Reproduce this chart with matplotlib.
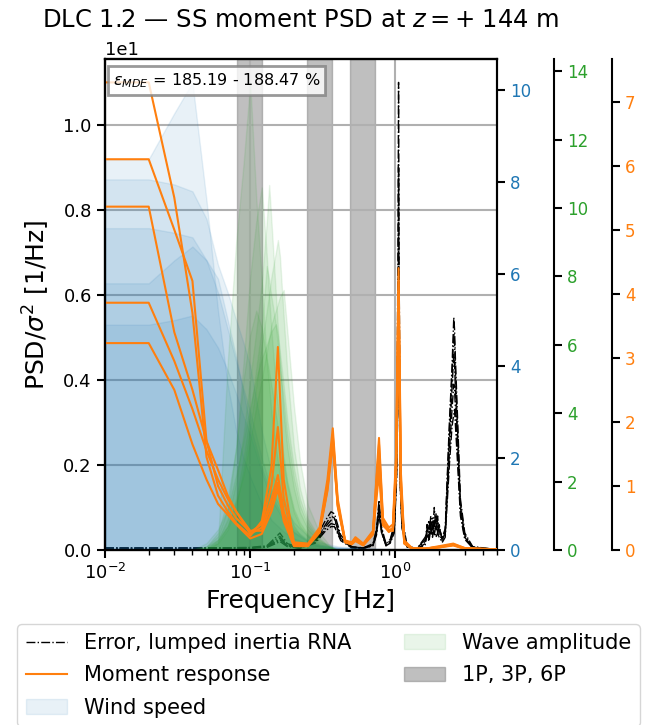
import matplotlib
matplotlib.use('Agg')
import matplotlib.pyplot as plt

# Frequencies [Hz] and PSD values
f_wind = [0.01, 0.02, 0.03, 0.04, 0.05, 0.06, 0.07, 0.08, 0.09, 0.10, 0.12,
          0.14, 0.17, 0.20, 0.25, 0.30, 0.40, 0.60, 1.00, 2.00, 5.00]
wind_1 = [8.50, 8.50, 9.50, 10.17, 7.60, 5.20, 3.60, 2.60, 2.00, 1.60, 1.00,
          0.65, 0.40, 0.25, 0.14, 0.08, 0.04, 0.02, 0.01, 0.00, 0.00]
wind_2 = [8.06, 8.06, 7.95, 7.80, 7.20, 6.20, 5.60, 5.00, 4.50, 4.00, 2.60,
          1.70, 1.00, 0.60, 0.30, 0.17, 0.08, 0.04, 0.02, 0.00, 0.00]
wind_3 = [7.00, 7.00, 6.90, 6.80, 6.30, 5.60, 4.80, 4.10, 3.50, 3.00, 2.00,
          1.30, 0.80, 0.45, 0.22, 0.12, 0.06, 0.03, 0.01, 0.00, 0.00]
wind_4 = [5.80, 5.80, 6.30, 6.60, 6.30, 5.90, 5.00, 4.20, 3.40, 2.70, 1.80,
          1.20, 0.70, 0.40, 0.20, 0.10, 0.05, 0.02, 0.01, 0.00, 0.00]
wind_5 = [4.90, 4.90, 5.00, 5.10, 4.80, 4.40, 3.90, 3.40, 2.90, 2.50, 1.70,
          1.10, 0.65, 0.38, 0.18, 0.10, 0.05, 0.02, 0.01, 0.00, 0.00]

f_wave = [0.04, 0.05, 0.06, 0.07, 0.08, 0.09, 0.10, 0.11, 0.12, 0.13, 0.135, 0.14,
          0.15, 0.155, 0.16, 0.17, 0.18, 0.20, 0.22, 0.25, 0.30, 0.35, 0.40]
wave_1 = [0.00, 0.00, 0.20, 5.50, 9.00, 11.30, 13.67, 10.30, 7.90, 5.50, 4.80, 4.00,
          3.00, 2.60, 2.20, 1.60, 1.20, 0.70, 0.45, 0.25, 0.10, 0.04, 0.00]
wave_2 = [0.00, 0.10, 0.40, 1.20, 3.00, 5.50, 8.00, 9.60, 10.60, 8.60, 7.40, 6.40,
          4.80, 4.20, 3.60, 2.70, 2.00, 1.20, 0.80, 0.45, 0.20, 0.08, 0.00]
wave_3 = [0.00, 0.05, 0.30, 0.90, 2.00, 3.40, 5.00, 6.40, 7.80, 9.60, 10.67, 9.60,
          7.50, 6.50, 5.50, 4.00, 3.00, 1.80, 1.10, 0.60, 0.25, 0.10, 0.00]
wave_4 = [0.00, 0.05, 0.20, 0.60, 1.30, 2.40, 3.60, 4.80, 6.00, 7.00, 7.50, 8.00,
          8.70, 9.06, 8.60, 6.80, 5.20, 3.00, 1.80, 0.90, 0.35, 0.12, 0.00]
wave_5 = [0.00, 0.05, 0.25, 0.70, 1.50, 2.70, 4.00, 5.30, 6.50, 8.30, 7.90, 7.40,
          6.60, 6.00, 5.40, 4.40, 3.40, 2.10, 1.30, 0.70, 0.30, 0.10, 0.00]
wave_6 = [0.00, 0.10, 0.50, 1.50, 3.00, 5.00, 6.30, 7.00, 6.50, 5.60, 5.20, 4.80,
          4.00, 3.60, 3.20, 2.50, 1.90, 1.10, 0.70, 0.40, 0.15, 0.05, 0.00]
wave_7 = [0.00, 0.20, 0.60, 1.20, 2.20, 3.20, 4.20, 5.00, 5.60, 6.00, 6.20, 6.40,
          6.60, 6.30, 5.80, 4.80, 3.80, 2.40, 1.50, 0.80, 0.30, 0.10, 0.00]
wave_8 = [0.00, 0.10, 0.30, 0.70, 1.40, 2.20, 3.20, 4.20, 5.00, 5.80, 6.20, 6.60,
          7.00, 7.20, 7.40, 7.60, 6.40, 4.20, 2.60, 1.30, 0.50, 0.15, 0.00]

f_moment = [0.01, 0.02, 0.03, 0.04, 0.05, 0.06, 0.07, 0.08, 0.10, 0.12, 0.14, 0.155, 0.17,
            0.20, 0.25, 0.30, 0.34, 0.37, 0.40, 0.45, 0.50, 0.53, 0.60, 0.70, 0.77, 0.82,
            0.90, 0.96, 1.01, 1.05, 1.09, 1.15, 1.30, 1.60, 2.00, 2.50, 3.00, 5.00]
moment_1 = [7.30, 7.30, 5.50, 3.70, 1.45, 0.85, 0.60, 0.42, 0.22, 0.45, 1.30, 3.17, 1.10,
            0.12, 0.10, 0.35, 1.10, 1.90, 0.80, 0.15, 0.12, 0.20, 0.10, 0.30, 1.75, 0.50,
            0.35, 0.40, 1.50, 4.40, 1.20, 0.15, 0.03, 0.02, 0.06, 0.10, 0.03, 0.01]
moment_2 = [6.10, 6.10, 5.00, 4.20, 1.70, 1.00, 0.70, 0.50, 0.28, 0.40, 1.00, 1.92, 0.80,
            0.10, 0.08, 0.30, 1.00, 1.80, 0.75, 0.14, 0.10, 0.18, 0.09, 0.28, 1.65, 0.45,
            0.30, 0.35, 1.40, 4.20, 1.10, 0.12, 0.03, 0.02, 0.05, 0.09, 0.03, 0.01]
moment_3 = [5.36, 5.36, 3.40, 2.50, 1.70, 1.25, 0.85, 0.60, 0.25, 0.35, 0.80, 1.17, 0.60,
            0.08, 0.08, 0.28, 0.95, 1.75, 0.70, 0.13, 0.10, 0.16, 0.08, 0.25, 1.50, 0.42,
            0.32, 0.30, 1.30, 4.00, 1.00, 0.12, 0.02, 0.02, 0.05, 0.08, 0.02, 0.01]
moment_4 = [3.86, 3.86, 2.95, 2.20, 1.55, 1.10, 0.80, 0.60, 0.30, 0.30, 0.70, 1.05, 0.50,
            0.07, 0.07, 0.30, 1.00, 1.70, 0.72, 0.12, 0.09, 0.15, 0.08, 0.26, 1.40, 0.40,
            0.28, 0.33, 1.25, 3.80, 0.95, 0.10, 0.02, 0.02, 0.04, 0.08, 0.02, 0.01]
moment_5 = [3.23, 3.23, 2.50, 1.65, 1.10, 0.72, 0.55, 0.40, 0.18, 0.25, 0.60, 0.95, 0.45,
            0.06, 0.06, 0.27, 0.92, 1.65, 0.68, 0.12, 0.09, 0.14, 0.07, 0.24, 1.20, 0.38,
            0.30, 0.30, 1.20, 3.60, 0.90, 0.10, 0.02, 0.02, 0.04, 0.07, 0.02, 0.01]

f_err = [0.01, 0.03, 0.06, 0.10, 0.13, 0.15, 0.16, 0.18, 0.22, 0.28, 0.33, 0.36, 0.38,
         0.42, 0.50, 0.60, 0.70, 0.74, 0.77, 0.80, 0.86, 0.92, 0.98, 1.02, 1.04, 1.05,
         1.06, 1.08, 1.11, 1.20, 1.40, 1.60, 1.65, 1.70, 1.75, 1.80, 1.85, 1.90, 1.95,
         2.00, 2.10, 2.20, 2.35, 2.45, 2.52, 2.55, 2.58, 2.65, 2.80, 3.00, 3.40, 5.00]
err_1 = [0.05, 0.05, 0.05, 0.06, 0.10, 0.30, 0.40, 0.15, 0.06, 0.25, 0.70, 0.90, 0.85,
         0.35, 0.08, 0.05, 0.15, 0.50, 1.17, 0.55, 0.15, 0.25, 0.60, 2.50, 7.00, 11.00,
         6.50, 2.00, 0.80, 0.10, 0.03, 0.20, 0.60, 0.30, 0.80, 0.40, 1.00, 0.50, 0.70,
         0.45, 0.30, 0.50, 3.00, 4.30, 5.47, 5.20, 4.60, 3.50, 1.20, 0.40, 0.08, 0.01]
err_2 = [0.04, 0.04, 0.05, 0.05, 0.08, 0.25, 0.32, 0.12, 0.05, 0.20, 0.60, 0.80, 0.75,
         0.30, 0.07, 0.05, 0.12, 0.45, 1.05, 0.50, 0.12, 0.22, 0.55, 2.20, 5.50, 9.00,
         5.20, 1.80, 0.70, 0.09, 0.03, 0.25, 0.45, 0.70, 0.35, 0.65, 0.55, 0.85, 0.40,
         0.55, 0.25, 0.45, 2.80, 4.10, 5.10, 4.90, 4.30, 3.20, 1.10, 0.35, 0.07, 0.01]
err_3 = [0.04, 0.05, 0.04, 0.05, 0.08, 0.20, 0.28, 0.10, 0.05, 0.22, 0.55, 0.70, 0.72,
         0.28, 0.06, 0.04, 0.12, 0.40, 0.95, 0.48, 0.12, 0.20, 0.50, 2.00, 4.50, 6.60,
         4.20, 1.60, 0.60, 0.08, 0.02, 0.15, 0.50, 0.25, 0.60, 0.75, 0.35, 0.60, 0.80,
         0.35, 0.25, 0.40, 2.60, 3.80, 4.60, 4.40, 3.90, 2.90, 1.00, 0.30, 0.06, 0.01]
err_4 = [0.05, 0.04, 0.05, 0.05, 0.07, 0.18, 0.24, 0.10, 0.04, 0.18, 0.50, 0.62, 0.60,
         0.25, 0.06, 0.04, 0.10, 0.38, 0.90, 0.45, 0.10, 0.18, 0.45, 1.90, 4.30, 6.30,
         4.00, 1.50, 0.55, 0.08, 0.02, 0.30, 0.40, 0.55, 0.45, 0.30, 0.70, 0.45, 0.55,
         0.60, 0.20, 0.35, 2.30, 3.30, 3.90, 3.80, 3.40, 2.60, 0.90, 0.28, 0.05, 0.01]
err_5 = [0.04, 0.04, 0.04, 0.05, 0.06, 0.15, 0.20, 0.08, 0.04, 0.16, 0.45, 0.55, 0.55,
         0.22, 0.05, 0.04, 0.10, 0.35, 0.85, 0.42, 0.10, 0.16, 0.40, 1.70, 4.00, 5.80,
         3.70, 1.40, 0.50, 0.07, 0.02, 0.12, 0.35, 0.20, 0.50, 0.35, 0.45, 0.30, 0.40,
         0.30, 0.18, 0.30, 2.00, 2.90, 3.20, 3.30, 3.00, 2.30, 0.80, 0.25, 0.05, 0.01]

# rotor speed range (1P) and harmonics drawn as bands
rotor_freq = [0.0815, 0.121]
harmonics = [1, 3, 6]

mde_text = r'$\varepsilon_{MDE}$ = 185.19 - 188.47 %'

winds = [wind_1, wind_2, wind_3, wind_4, wind_5]
waves = [wave_1, wave_2, wave_3, wave_4, wave_5, wave_6, wave_7, wave_8]
moments = [moment_1, moment_2, moment_3, moment_4, moment_5]
errors = [err_1, err_2, err_3, err_4, err_5]

plt.rcParams['axes.linewidth'] = 1.5
plt.rcParams['xtick.major.width'] = 1.5
plt.rcParams['ytick.major.width'] = 1.5
plt.rcParams['xtick.major.size'] = 6
plt.rcParams['ytick.major.size'] = 6
plt.rcParams['xtick.minor.width'] = 1.0
plt.rcParams['xtick.minor.size'] = 3.5

fig = plt.figure(figsize=(6.57, 7.25), dpi=100)
ax = fig.add_axes([105 / 657, 1 - 550 / 725, 392 / 657, 491 / 725])

# 1P / 3P / 6P bands
bands = []
for h in harmonics:
    bands.append(ax.axvspan(h * rotor_freq[0], h * rotor_freq[1], color='gray', alpha=0.5))

err_lines = []
for e in errors:
    l, = ax.plot(f_err, e, color='k', ls='-.', lw=1.0)
    err_lines.append(l)

ax.set_xscale('log')
ax.set_xlim(0.01, 5)
ax.set_ylim(0, 1.05 * max(max(e) for e in errors))
ax.ticklabel_format(axis='y', style='sci', scilimits=(0, 0))
ax.grid(True, color='#b0b0b0', lw=1.5)
ax.tick_params(labelsize=13)
ax.yaxis.get_offset_text().set_fontsize(13)
ax.set_xlabel('Frequency [Hz]', fontsize=18)
ax.set_ylabel(r'PSD/$\sigma^2$ [1/Hz]', fontsize=18, labelpad=8)
ax.set_title(r'DLC 1.2 — SS moment PSD at $z = +\;144$ m', fontsize=17.5, pad=10)

# wind speed on first twin axis
ax_w = ax.twinx()
wind_fills = []
for w in winds:
    wind_fills.append(ax_w.fill_between(f_wind, 0, w, color='tab:blue', alpha=0.1))
ax_w.set_ylim(0, 1.05 * max(max(w) for w in winds))
ax_w.tick_params(axis='y', labelcolor='tab:blue', labelsize=12)

# wave amplitude on second twin axis
ax_g = ax.twinx()
ax_g.spines['right'].set_position(('axes', 1.145))
wave_fills = []
for g in waves:
    wave_fills.append(ax_g.fill_between(f_wave, 0, g, color='tab:green', alpha=0.1))
ax_g.set_ylim(0, 1.05 * max(max(g) for g in waves))
ax_g.tick_params(axis='y', labelcolor='tab:green', labelsize=12)

# moment response on third twin axis
ax_m = ax.twinx()
ax_m.spines['right'].set_position(('axes', 1.293))
mom_lines = []
for m in moments:
    l, = ax_m.plot(f_moment, m, color='tab:orange', lw=1.5)
    mom_lines.append(l)
ax_m.set_ylim(0, 1.05 * max(max(m) for m in moments))
ax_m.tick_params(axis='y', labelcolor='tab:orange', labelsize=12)
ax_m.set_xlim(0.01, 5)

ax_m.text(0.02, 0.975, mde_text, transform=ax_m.transAxes, fontsize=11.5,
          va='top', ha='left',
          bbox=dict(boxstyle='square,pad=0.3', facecolor='white', edgecolor='gray',
                    lw=2, alpha=0.8))

handles = [err_lines[0], mom_lines[0], wind_fills[0], wave_fills[0], bands[0]]
labels = ['Error, lumped inertia RNA', 'Moment response', 'Wind speed',
          'Wave amplitude', '1P, 3P, 6P']
fig.legend(handles, labels, loc='upper center', bbox_to_anchor=(0.5, 0.153),
           ncol=2, fontsize=15, columnspacing=2.5, labelspacing=0.6)

fig.savefig('out.png', dpi=100)
